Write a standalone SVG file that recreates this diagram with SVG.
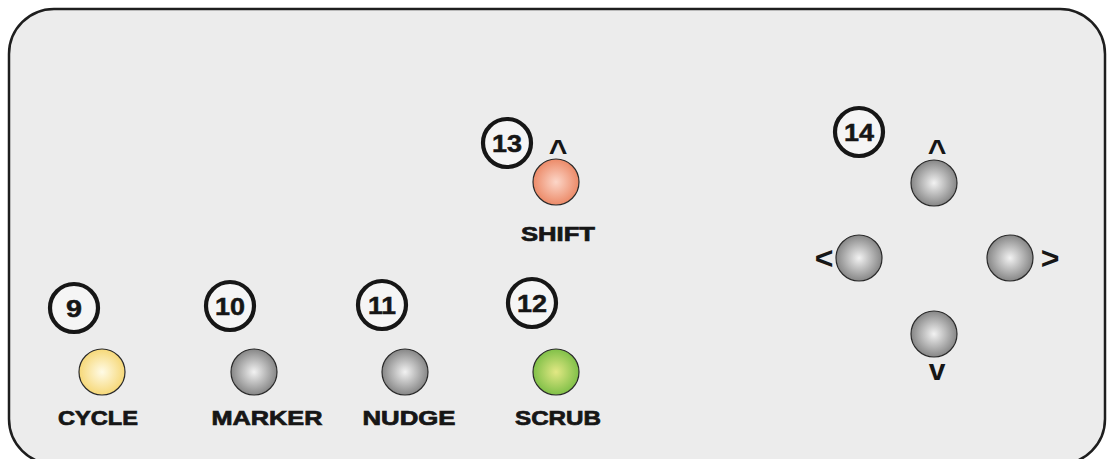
<svg xmlns="http://www.w3.org/2000/svg" width="1109" height="459" viewBox="0 0 1109 459">
<defs>
<radialGradient id="gGray" cx="50%" cy="50%" r="50%">
<stop offset="0" stop-color="#f2f2f2"/><stop offset="1" stop-color="#868686"/>
</radialGradient>
<radialGradient id="gYellow" cx="50%" cy="50%" r="50%">
<stop offset="0" stop-color="#fffbe6"/><stop offset="1" stop-color="#f6d878"/>
</radialGradient>
<radialGradient id="gSalmon" cx="50%" cy="50%" r="50%">
<stop offset="0" stop-color="#fcd6c8"/><stop offset="1" stop-color="#ec8a68"/>
</radialGradient>
<radialGradient id="gGreen" cx="50%" cy="50%" r="50%">
<stop offset="0" stop-color="#e2e884"/><stop offset="1" stop-color="#80c048"/>
</radialGradient>
</defs>
<style>
.panel{fill:#ececec;stroke:#1e1e1e;stroke-width:2.5}
.btn{stroke:#2a2a2a;stroke-width:1.2}
.badge{fill:#f5f5f5;stroke:#161616;stroke-width:4.2}
.num{font-family:"Liberation Sans",Arial,sans-serif;font-weight:bold;font-size:24px;fill:#161616;stroke:#161616;stroke-width:0.5;text-anchor:middle}
.lbl{font-family:"Liberation Sans",Arial,sans-serif;font-weight:bold;font-size:20px;fill:#161616;stroke:#161616;stroke-width:0.7;text-anchor:middle}
.arr{font-family:"Liberation Sans",Arial,sans-serif;font-weight:bold;font-size:32px;fill:#161616;text-anchor:middle}
</style>
<rect class="panel" x="9" y="9" width="1096" height="455" rx="45" ry="45"/>

<g id="node-cycle">
<circle class="badge" cx="74" cy="308" r="24"/>
<text class="num" x="74" y="316.5" textLength="16" lengthAdjust="spacingAndGlyphs">9</text>
<circle class="btn" cx="102" cy="372" r="23" fill="url(#gYellow)"/>
<text class="lbl" x="98" y="425" textLength="80" lengthAdjust="spacingAndGlyphs">CYCLE</text>
</g>

<g id="node-marker">
<circle class="badge" cx="230" cy="306" r="24"/>
<text class="num" x="230" y="314.5" textLength="30" lengthAdjust="spacingAndGlyphs">10</text>
<circle class="btn" cx="254" cy="372" r="23" fill="url(#gGray)"/>
<text class="lbl" x="267" y="425" textLength="111" lengthAdjust="spacingAndGlyphs">MARKER</text>
</g>

<g id="node-nudge">
<circle class="badge" cx="382" cy="305" r="24"/>
<text class="num" x="382" y="313.5" textLength="28" lengthAdjust="spacingAndGlyphs">11</text>
<circle class="btn" cx="405" cy="372" r="23" fill="url(#gGray)"/>
<text class="lbl" x="409" y="425" textLength="93" lengthAdjust="spacingAndGlyphs">NUDGE</text>
</g>

<g id="node-scrub">
<circle class="badge" cx="532" cy="303" r="24"/>
<text class="num" x="532" y="311.5" textLength="30" lengthAdjust="spacingAndGlyphs">12</text>
<circle class="btn" cx="556" cy="372" r="23" fill="url(#gGreen)"/>
<text class="lbl" x="558" y="425" textLength="86" lengthAdjust="spacingAndGlyphs">SCRUB</text>
</g>

<g id="node-shift">
<circle class="badge" cx="507" cy="143" r="24"/>
<text class="num" x="507" y="151.5" textLength="30" lengthAdjust="spacingAndGlyphs">13</text>
<text class="arr" x="558" y="162">^</text>
<circle class="btn" cx="556" cy="182" r="23" fill="url(#gSalmon)"/>
<text class="lbl" x="558" y="241" textLength="74" lengthAdjust="spacingAndGlyphs">SHIFT</text>
</g>

<g id="node-dpad">
<circle class="badge" cx="859" cy="132" r="24"/>
<text class="num" x="859" y="140.5" textLength="30" lengthAdjust="spacingAndGlyphs">14</text>
<text class="arr" x="937" y="162">^</text>
<circle class="btn" cx="934" cy="183" r="23" fill="url(#gGray)"/>
<text class="arr" x="824" y="269">&lt;</text>
<circle class="btn" cx="859" cy="258" r="23" fill="url(#gGray)"/>
<circle class="btn" cx="1010" cy="258" r="23" fill="url(#gGray)"/>
<text class="arr" x="1050" y="269">&gt;</text>
<circle class="btn" cx="934" cy="334" r="23" fill="url(#gGray)"/>
<text class="arr" x="937" y="380" style="font-size:30px">v</text>
</g>
</svg>
